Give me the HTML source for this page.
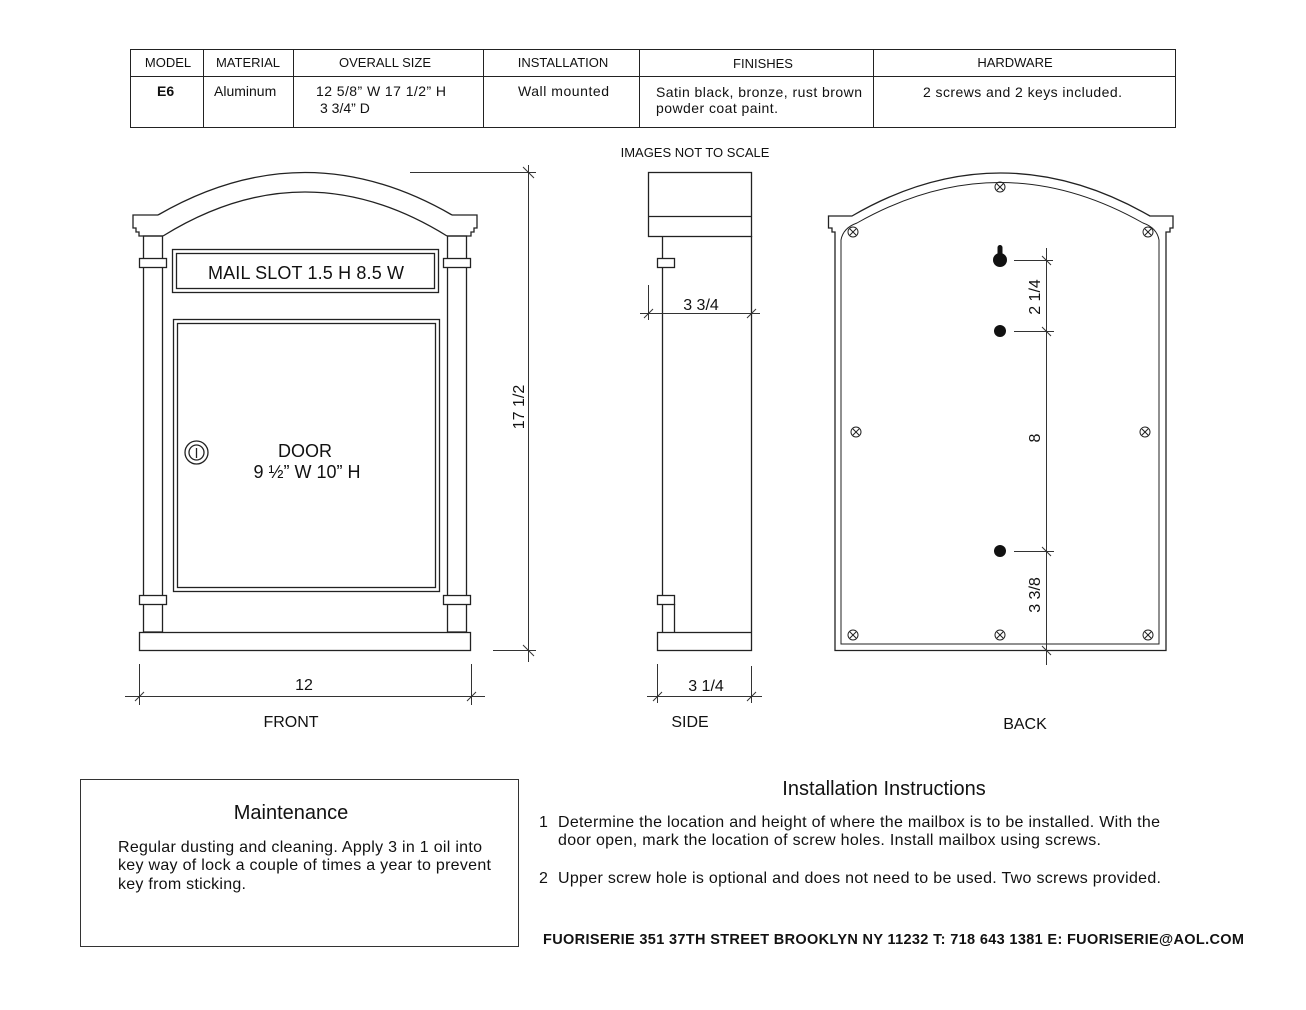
<!DOCTYPE html>
<html><head><meta charset="utf-8"><style>
body{margin:0;background:#fff;}
svg{display:block;font-family:"Liberation Sans",Arial,sans-serif;}
</style></head><body>
<svg width="1306" height="1010" viewBox="0 0 1306 1010" xmlns="http://www.w3.org/2000/svg">
<defs>
<g id="s"><circle r="5"/><line x1="-3" y1="-3" x2="3" y2="3"/><line x1="-3" y1="3" x2="3" y2="-3"/></g>
</defs>
<g fill="none" stroke="#222" stroke-width="1">
<rect x="130.5" y="49.5" width="1045" height="78"/>
<line x1="130" y1="76.5" x2="1175" y2="76.5"/>
<line x1="203.5" y1="49" x2="203.5" y2="127"/><line x1="293.5" y1="49" x2="293.5" y2="127"/>
<line x1="483.5" y1="49" x2="483.5" y2="127"/><line x1="639.5" y1="49" x2="639.5" y2="127"/>
<line x1="873.5" y1="49" x2="873.5" y2="127"/>
</g>
<g font-size="13" fill="#111" text-anchor="middle">
<text x="168" y="67">MODEL</text><text x="248" y="67">MATERIAL</text><text x="385" y="67">OVERALL SIZE</text>
<text x="563" y="67">INSTALLATION</text><text x="763" y="68">FINISHES</text><text x="1015" y="67">HARDWARE</text>
</g>
<g font-size="14" fill="#111">
<text x="157" y="96" font-weight="bold">E6</text>
<text x="214" y="96">Aluminum</text>
<text x="316" y="96" textLength="130">12 5/8” W 17 1/2” H</text><text x="320" y="113">3 3/4” D</text>
<text x="518" y="96" textLength="91">Wall mounted</text>
<text x="656" y="97" textLength="206">Satin black, bronze, rust brown</text><text x="656" y="113" textLength="122">powder coat paint.</text>
<text x="923" y="97" textLength="199">2 screws and 2 keys included.</text>
</g>
<text x="695" y="157" font-size="13" text-anchor="middle" fill="#111">IMAGES NOT TO SCALE</text>

<!-- FRONT -->
<g fill="none" stroke="#222" stroke-width="1.3">
<path d="M158,215 Q305,130 452,215"/>
<path d="M163,236 Q305,148 447,236"/>
<path d="M158,215 L133,215 L133,228 L136,228 L136,232 L139,232 L139,236 L163,236"/>
<path d="M452,215 L477,215 L477,228 L474,228 L474,232 L471,232 L471,236 L447,236"/>
<rect x="143.5" y="236" width="19" height="396"/>
<rect x="447.5" y="236" width="19" height="396"/>
<rect x="139.5" y="258.5" width="27" height="9" fill="#fff"/>
<rect x="443.5" y="258.5" width="27" height="9" fill="#fff"/>
<rect x="139.5" y="595.5" width="27" height="9" fill="#fff"/>
<rect x="443.5" y="595.5" width="27" height="9" fill="#fff"/>
<rect x="172.5" y="249.5" width="266" height="43"/>
<rect x="176.5" y="253.5" width="258" height="35"/>
<rect x="173.5" y="319.5" width="266" height="272"/>
<rect x="177.5" y="323.5" width="258" height="264"/>
<rect x="139.5" y="632.5" width="331" height="18"/>
<circle cx="196.5" cy="452.5" r="11.5"/><circle cx="196.5" cy="452.5" r="7.5"/>
<line x1="196.5" y1="448" x2="196.5" y2="458"/>
</g>
<g stroke="#333" stroke-width="1" fill="none">
<line x1="528.5" y1="165" x2="528.5" y2="662"/>
<line x1="410" y1="172.5" x2="536" y2="172.5"/>
<line x1="493" y1="650.5" x2="536" y2="650.5"/>
<line x1="523" y1="167" x2="534" y2="178"/><line x1="523" y1="645" x2="534" y2="656"/>
<line x1="125" y1="696.5" x2="485" y2="696.5"/>
<line x1="139.5" y1="664" x2="139.5" y2="705"/><line x1="471.5" y1="664" x2="471.5" y2="705"/>
<line x1="135" y1="701" x2="144" y2="692"/><line x1="467" y1="701" x2="476" y2="692"/>
</g>
<text x="306" y="279" font-size="18" text-anchor="middle" fill="#111" textLength="196">MAIL SLOT 1.5 H 8.5 W</text>
<text x="305" y="457" font-size="18" text-anchor="middle" fill="#111">DOOR</text>
<text x="307" y="478" font-size="18" text-anchor="middle" fill="#111">9 ½” W 10” H</text>
<text x="524" y="407" font-size="16" text-anchor="middle" fill="#111" transform="rotate(-90 524 407)">17 1/2</text>
<text x="304" y="690" font-size="16" text-anchor="middle" fill="#111">12</text>
<text x="291" y="727" font-size="16" text-anchor="middle" fill="#111">FRONT</text>

<!-- SIDE -->
<g fill="none" stroke="#222" stroke-width="1.3">
<rect x="648.5" y="172.5" width="103" height="64"/>
<line x1="648" y1="216.5" x2="751" y2="216.5"/>
<line x1="662.5" y1="236" x2="662.5" y2="632"/>
<line x1="751.5" y1="236" x2="751.5" y2="632"/>
<line x1="674.5" y1="604" x2="674.5" y2="632"/>
<rect x="657.5" y="258.5" width="17" height="9" fill="#fff"/>
<rect x="657.5" y="595.5" width="17" height="9" fill="#fff"/>
<rect x="657.5" y="632.5" width="94" height="18"/>
</g>
<g stroke="#333" stroke-width="1">
<line x1="640" y1="313.5" x2="760" y2="313.5"/>
<line x1="648.5" y1="285" x2="648.5" y2="320"/>
<line x1="644" y1="318" x2="653" y2="309"/><line x1="747" y1="318" x2="756" y2="309"/>
<line x1="647" y1="696.5" x2="762" y2="696.5"/>
<line x1="657.5" y1="664" x2="657.5" y2="703"/><line x1="751.5" y1="666" x2="751.5" y2="703"/>
<line x1="653" y1="701" x2="662" y2="692"/><line x1="747" y1="701" x2="756" y2="692"/>
</g>
<text x="701" y="310" font-size="16" text-anchor="middle" fill="#111">3 3/4</text>
<text x="706" y="691" font-size="16" text-anchor="middle" fill="#111">3 1/4</text>
<text x="690" y="727" font-size="16" text-anchor="middle" fill="#111">SIDE</text>

<!-- BACK -->
<g fill="none" stroke="#222" stroke-width="1.3">
<path d="M852,216 Q1000,130 1150,216 L1173,216 L1173,228 L1170,228 L1170,232 L1166,232 L1166,650.5 L835,650.5 L835,232 L832,232 L832,228 L828.5,228 L828.5,216 Z"/>
<path d="M857,223 Q1000,142 1143,223 Q1157,228 1159,240 L1159,644 L841,644 L841,240 Q843,228 857,223 Z" stroke-width="1"/>
</g>
<g fill="none" stroke="#222" stroke-width="1">
<use href="#s" x="853" y="232"/><use href="#s" x="1148" y="232"/><use href="#s" x="1000" y="187"/>
<use href="#s" x="856" y="432"/><use href="#s" x="1145" y="432"/>
<use href="#s" x="853" y="635"/><use href="#s" x="1000" y="635"/><use href="#s" x="1148" y="635"/>
</g>
<g fill="#111">
<circle cx="1000" cy="260" r="7"/><rect x="997.5" y="245" width="5" height="14" rx="2.5"/>
<circle cx="1000" cy="331" r="6"/><circle cx="1000" cy="551" r="6"/>
</g>
<g stroke="#333" stroke-width="1">
<line x1="1046.5" y1="248" x2="1046.5" y2="665"/>
<line x1="1014" y1="260.5" x2="1053" y2="260.5"/><line x1="1014" y1="331.5" x2="1054" y2="331.5"/>
<line x1="1014" y1="551.5" x2="1054" y2="551.5"/>
<line x1="1042" y1="256" x2="1051" y2="265"/><line x1="1042" y1="327" x2="1051" y2="336"/>
<line x1="1042" y1="547" x2="1051" y2="556"/><line x1="1042" y1="646" x2="1051" y2="655"/>
</g>
<text x="1040" y="297" font-size="16" text-anchor="middle" fill="#111" transform="rotate(-90 1040 297)">2 1/4</text>
<text x="1040" y="438" font-size="16" text-anchor="middle" fill="#111" transform="rotate(-90 1040 438)">8</text>
<text x="1040" y="595" font-size="16" text-anchor="middle" fill="#111" transform="rotate(-90 1040 595)">3 3/8</text>
<text x="1025" y="729" font-size="16" text-anchor="middle" fill="#111">BACK</text>

<!-- Maintenance -->
<rect x="80.5" y="779.5" width="438" height="167" fill="none" stroke="#333"/>
<text x="291" y="819" font-size="20" text-anchor="middle" fill="#111">Maintenance</text>
<g font-size="16" fill="#111">
<text x="118" y="852" textLength="364">Regular dusting and cleaning. Apply 3 in 1 oil into</text>
<text x="118" y="870" textLength="373">key way of lock a couple of times a year to prevent</text>
<text x="118" y="889" textLength="128">key from sticking.</text>
</g>
<text x="884" y="795" font-size="20" text-anchor="middle" fill="#111">Installation Instructions</text>
<g font-size="16" fill="#111">
<text x="539" y="827">1</text><text x="558" y="827" textLength="602">Determine the location and height of where the mailbox is to be installed. With the</text>
<text x="558" y="845" textLength="543">door open, mark the location of screw holes. Install mailbox using screws.</text>
<text x="539" y="883">2</text><text x="558" y="883" textLength="603">Upper screw hole is optional and does not need to be used. Two screws provided.</text>
</g>
<text x="543" y="944" font-size="14.5" font-weight="bold" fill="#111" textLength="701">FUORISERIE  351 37TH STREET BROOKLYN NY 11232 T: 718 643 1381 E: FUORISERIE@AOL.COM</text>
</svg>
</body></html>
